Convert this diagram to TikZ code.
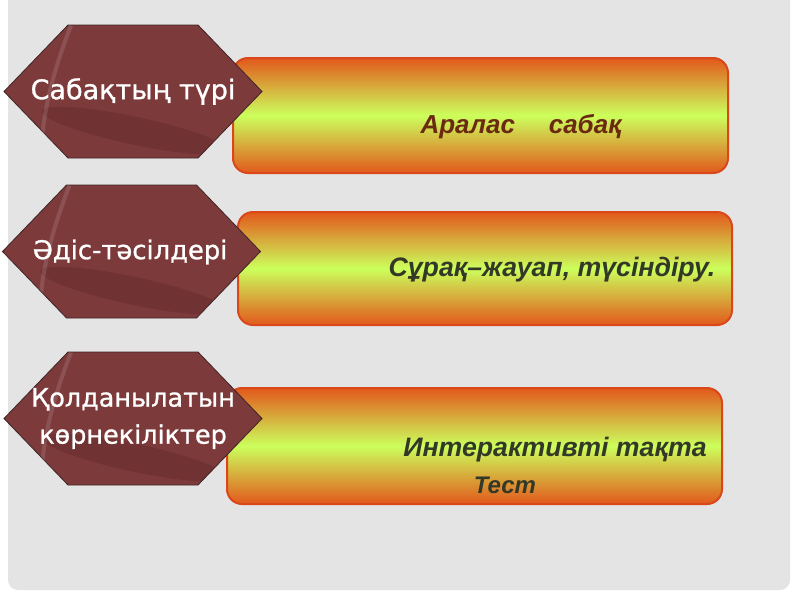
\documentclass[tikz,border=0pt]{standalone}
\usepackage{fontspec}
\setmainfont{Liberation Sans}
\newfontfamily\hexfont[FakeBold=1]{DejaVu Sans}
\definecolor{panelgrey}{HTML}{E4E4E4}
\definecolor{hexred}{HTML}{7D3A3B}
\definecolor{hexdark}{HTML}{5A2426}
\definecolor{hexedge}{HTML}{3F2526}
\definecolor{barorange}{HTML}{E2581C}
\definecolor{barlime}{HTML}{CCFF5C}
\definecolor{baredge}{HTML}{D9471A}
\definecolor{brownink}{HTML}{6A2A12}
\definecolor{darkink}{HTML}{343826}
\tikzset{
	hexline/.style={fill=hexred, draw=hexedge, line width=0.8pt},
	hextext/.style={text=white, align=center, inner sep=0pt, font=\hexfont\fontsize{27}{37}\selectfont},
	bar/.style={rounded corners=15pt, draw=baredge, line width=2pt,
		top color=barorange, bottom color=barorange, middle color=barlime},
	bartext/.style={font=\bfseries\itshape\fontsize{26.7}{30}\selectfont}
}
\begin{document}
\begin{tikzpicture}[x=1pt,y=-1pt]
	\useasboundingbox (0,0) rectangle (800,600);
	\fill[white] (0,0) rectangle (800,600);
	\fill[panelgrey,rounded corners=10pt] (8,-20) rectangle (790,590);
	\node[bar,minimum width=495pt,minimum height=115pt] (kindbar) at (480.5,115.5) {};
	\node[bar,minimum width=494pt,minimum height=113pt] (methodbar) at (485,268.5) {};
	\node[bar,minimum width=495pt,minimum height=116pt] (toolbar) at (474.5,446) {};
	\foreach \hx/\hy in {133/91.5, 131.5/251.5, 133/418.5}{
		\begin{scope}[shift={(\hx,\hy)}]
			\draw[hexline] (-65,-66.5) -- (65,-66.5) -- (129,0) -- (65,66.5) -- (-65,66.5) -- (-129,0) -- cycle;
			\clip (-65,-66.5) -- (65,-66.5) -- (129,0) -- (65,66.5) -- (-65,66.5) -- (-129,0) -- cycle;
			\fill[hexdark,opacity=0.35,rotate=-12] (10,38) ellipse (95pt and 14pt);
			\draw[white,opacity=0.12,line width=4pt] (-62,-66) .. controls (-80,-20) and (-90,20) .. (-92,60);
		\end{scope}
	}
	\node[hextext] (kind) at (133,91.5) {Сабақтың түрі};
	\node[hextext,font=\hexfont\fontsize{25.8}{37}\selectfont] (method) at (130,252) {Әдіс-тәсілдері};
	\node[hextext,font=\hexfont\fontsize{25.5}{37}\selectfont] (tool) at (133,418.5) {Қолданылатын\\көрнекіліктер};
	\node[bartext,text=brownink,font=\bfseries\itshape\fontsize{26}{30}\selectfont] (kindtext) at (521,127) {Аралас\hspace{1.3em}сабақ};
	\node[bartext,text=darkink] (methodtext) at (552,270) {Сұрақ–жауап, түсіндіру.};
	\node[bartext,text=darkink] (tooltext) at (555,450) {Интерактивті тақта};
	\node[bartext,text=darkink,font=\bfseries\itshape\fontsize{24}{26}\selectfont] (testtext) at (505,485) {Тест};
\end{tikzpicture}
\end{document}
